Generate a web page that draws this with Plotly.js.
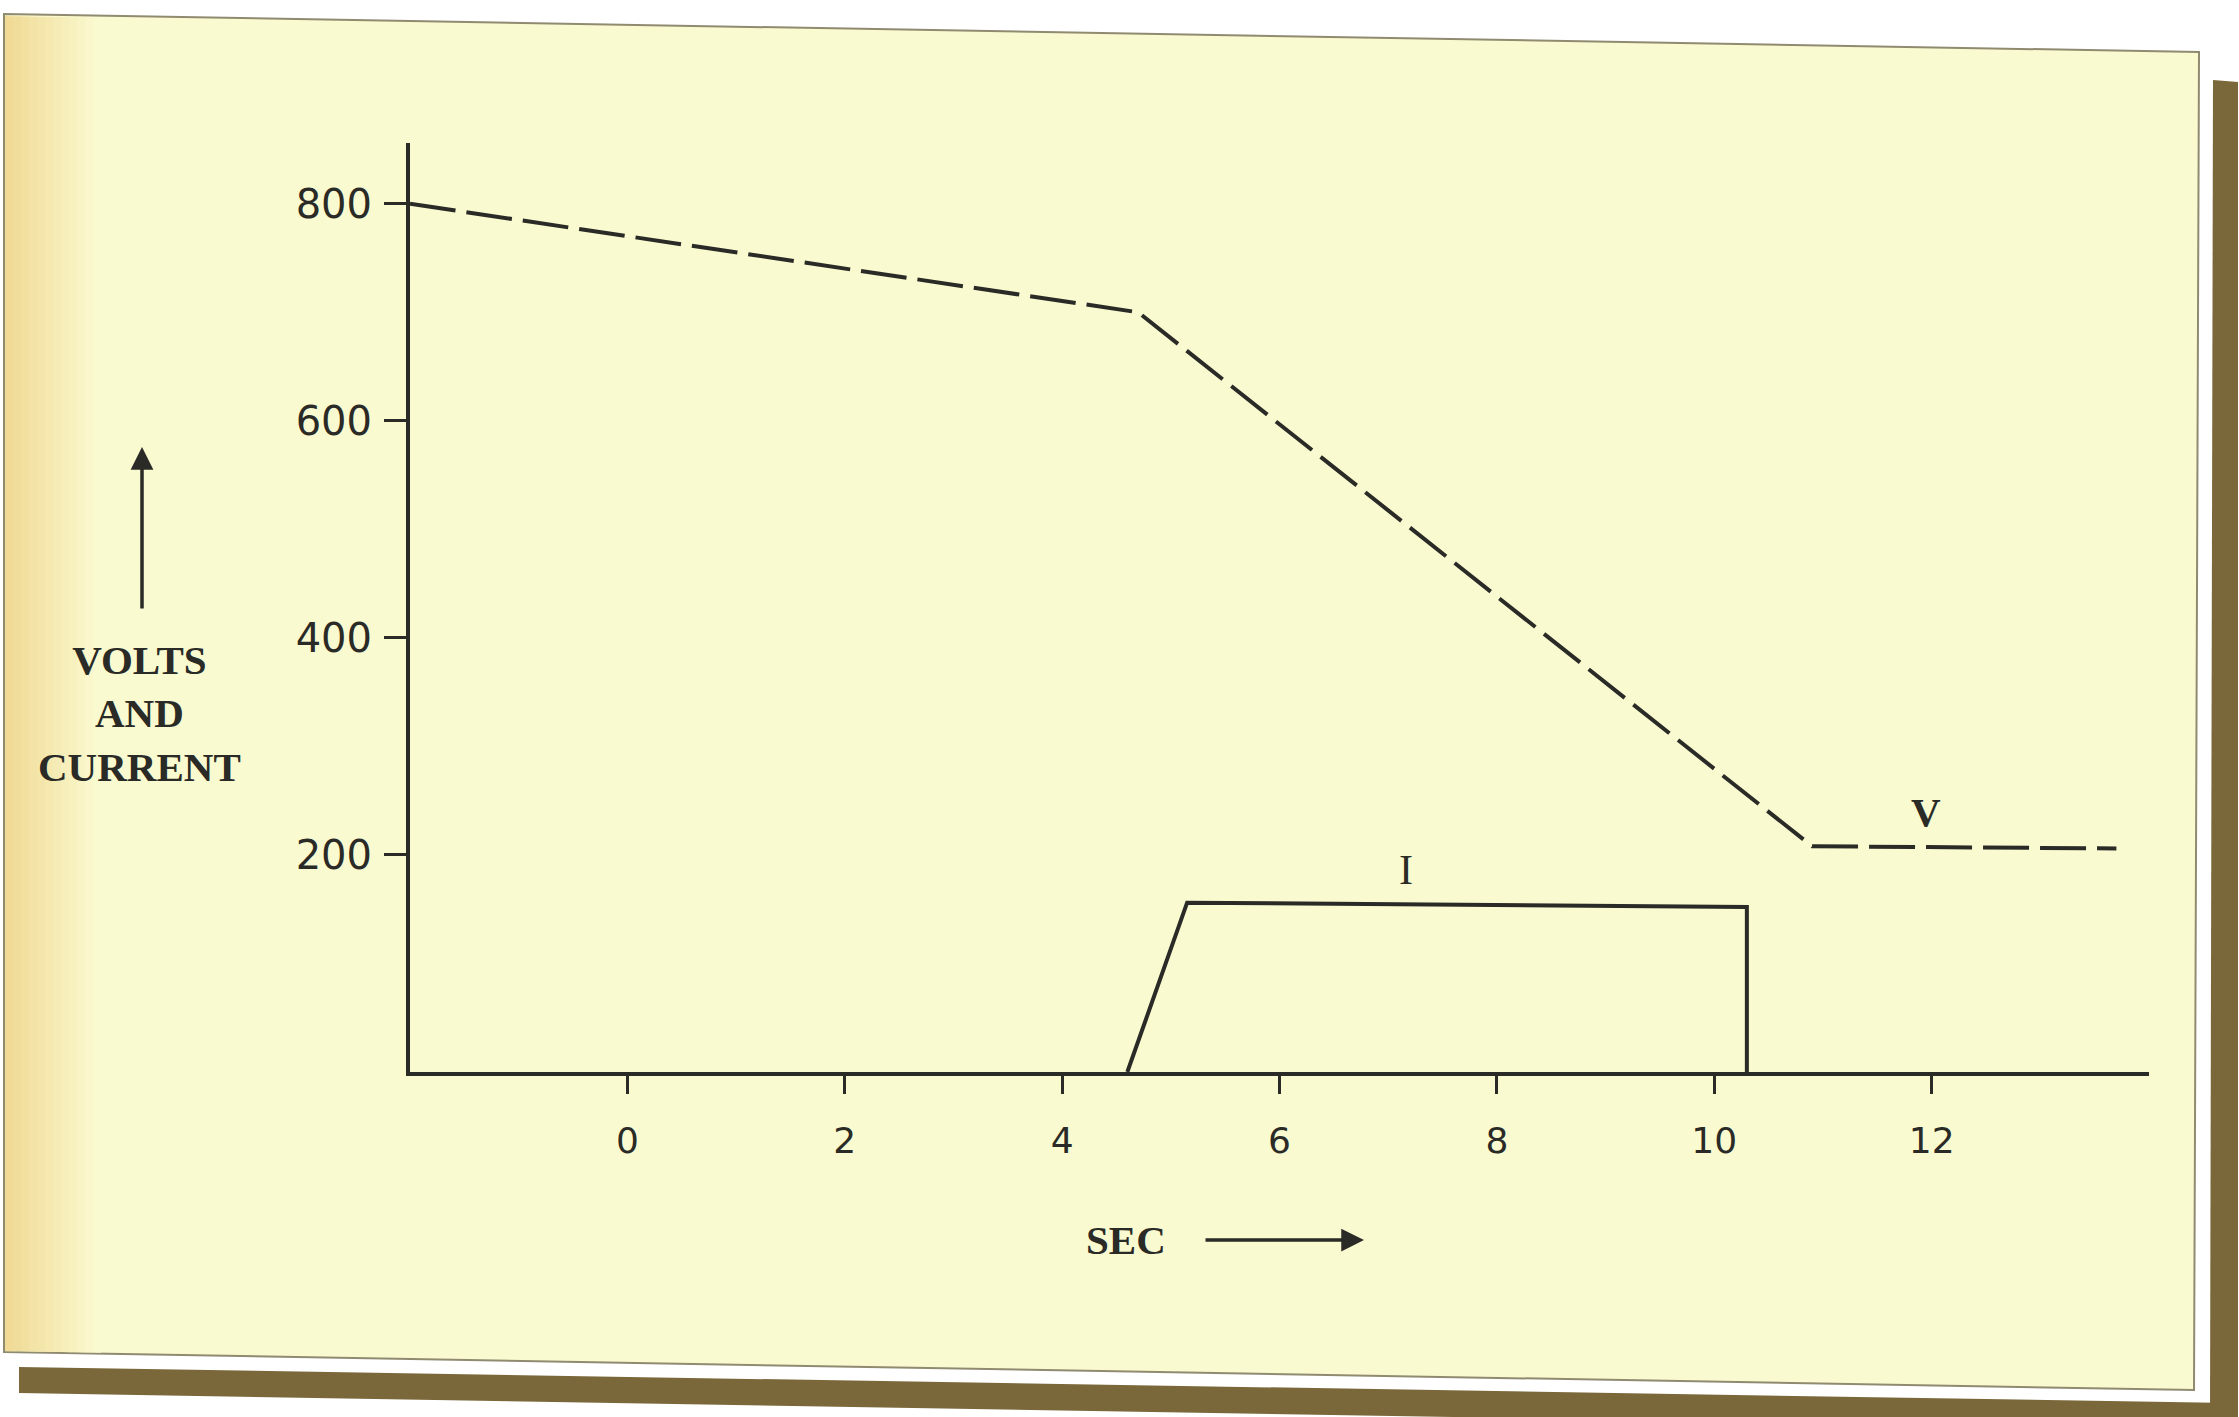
<!DOCTYPE html>
<html>
<head>
<meta charset="utf-8">
<script src="https://cdn.plot.ly/plotly-3.0.1.min.js"></script>
<style>html,body{margin:0;padding:0;background:#fff;}#chart{width:2239px;height:1417px;}</style>
</head>
<body>
<div id="chart"></div>
<script>
// ---- data ----
const voltTime = [-2, 4.7, 10.9, 13.7];
const voltValue = [800, 700, 208, 206];
const currentTime = [4.6, 5.15, 10.3, 10.3];
const currentValue = [0, 156, 152, 0];
const xTickVals = [0, 2, 4, 6, 8, 10, 12];
const xTickText = ['0', '2', '4', '6', '8', '10', '12'];
const yTickVals = [200, 400, 600, 800];
const yTickText = ['200', '400', '600', '800'];

// ---- layout helpers (decoration only) ----
const W = 2239, H = 1417, ML = 410, MR = 90, MT = 143, MB = 345;
const PW = W - ML - MR, PH = H - MT - MB;
const fx = x => (x - ML) / PW;
const fy = y => (H - MB - y) / PH;
const pathOf = pts => 'M' + pts.map(p => fx(p[0]).toFixed(5) + ',' + fy(p[1]).toFixed(5)).join('L') + 'Z';

const ink = '#2a2a26';
const shapes = [];
// card
shapes.push({type: 'path', xref: 'paper', yref: 'paper', layer: 'below',
  path: pathOf([[4, 14], [2199, 52], [2194, 1390], [4, 1352]]),
  fillcolor: 'rgb(250,250,208)', line: {color: '#8f8a70', width: 2}});
// left warm edge (stepped gradient)
const steps = 12;
for (let i = 0; i < steps; i++) {
  const t = i / (steps - 1);
  const r = Math.round(240 + (250 - 240) * t);
  const g = Math.round(218 + (250 - 218) * t);
  const b = Math.round(150 + (208 - 150) * t);
  const x0 = 5 + i * 8, x1 = x0 + 8;
  shapes.push({type: 'path', xref: 'paper', yref: 'paper', layer: 'below',
    path: pathOf([[x0, 16 + x0 * 0.017], [x1, 16 + x1 * 0.017], [x1, 1351 + x1 * 0.017], [x0, 1351 + x0 * 0.017]]),
    fillcolor: 'rgb(' + r + ',' + g + ',' + b + ')', line: {width: 0}});
}
// dark shadow strips
shapes.push({type: 'path', xref: 'paper', yref: 'paper', layer: 'below',
  path: pathOf([[2213, 80], [2238, 82], [2238, 1417], [2210, 1417]]),
  fillcolor: 'rgb(122,104,58)', line: {width: 0}});
shapes.push({type: 'path', xref: 'paper', yref: 'paper', layer: 'below',
  path: pathOf([[19, 1367], [2230, 1403], [2230, 1430], [19, 1393]]),
  fillcolor: 'rgb(122,104,58)', line: {width: 0}});

const serif = 'Liberation Serif, Times New Roman, serif';
const annotations = [
  {xref: 'paper', yref: 'paper', x: fx(139), y: fy(713), text: '<b>VOLTS<br>AND<br>CURRENT</b>',
   showarrow: false, xanchor: 'center', yanchor: 'middle', align: 'center',
   font: {family: serif, size: 41, color: ink}},
  {xref: 'paper', yref: 'paper', x: fx(142), y: fy(447), text: '', showarrow: true,
   ax: 0, ay: 163, arrowhead: 2, arrowsize: 1.3, arrowwidth: 3.5, arrowcolor: ink},
  {xref: 'paper', yref: 'paper', x: fx(1126), y: fy(1240), text: '<b>SEC</b>',
   showarrow: false, xanchor: 'center', yanchor: 'middle',
   font: {family: serif, size: 41, color: ink}},
  {xref: 'paper', yref: 'paper', x: fx(1364), y: fy(1240), text: '', showarrow: true,
   ax: -160, ay: 0, arrowhead: 2, arrowsize: 1.3, arrowwidth: 3.5, arrowcolor: ink},
  {xref: 'x', yref: 'y', x: 11.95, y: 240, text: '<b>V</b>', showarrow: false,
   font: {family: serif, size: 41, color: ink}},
  {xref: 'x', yref: 'y', x: 7.16, y: 186, text: 'I', showarrow: false,
   font: {family: serif, size: 42, color: ink}}
];

const traces = [
  {x: voltTime, y: voltValue, mode: 'lines', name: 'V',
   line: {color: ink, width: 4, dash: '46px,11px'}, hoverinfo: 'skip'},
  {x: currentTime, y: currentValue, mode: 'lines', name: 'I',
   line: {color: ink, width: 4}, hoverinfo: 'skip'}
];

const layout = {
  width: W, height: H,
  margin: {l: ML, r: MR, t: MT, b: MB, pad: 0},
  paper_bgcolor: '#ffffff',
  plot_bgcolor: 'rgba(0,0,0,0)',
  showlegend: false,
  shapes: shapes,
  annotations: annotations,
  xaxis: {
    range: [-2, 14], tickmode: 'array', tickvals: xTickVals, ticktext: xTickText,
    ticks: 'outside', ticklen: 18, tickwidth: 3, tickcolor: ink,
    showline: true, linewidth: 4, linecolor: ink, showgrid: false, zeroline: false,
    ticklabelstandoff: 16,
    tickfont: {family: 'DejaVu Sans, sans-serif', size: 36, color: ink}
  },
  yaxis: {
    range: [0, 856], tickmode: 'array', tickvals: yTickVals, ticktext: yTickText,
    ticks: 'outside', ticklen: 22, tickwidth: 3, tickcolor: ink,
    showline: true, linewidth: 4, linecolor: ink, showgrid: false, zeroline: false,
    ticklabelstandoff: 4,
    tickfont: {family: 'DejaVu Sans, sans-serif', size: 40, color: ink}
  }
};

Plotly.newPlot('chart', traces, layout, {displayModeBar: false, staticPlot: true});
</script>
</body>
</html>
